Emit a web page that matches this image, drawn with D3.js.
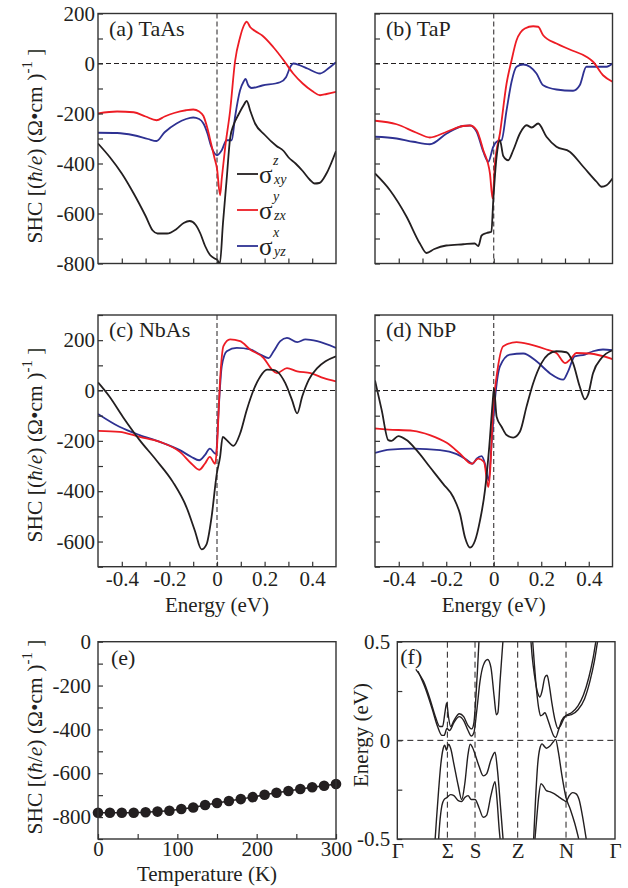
<!DOCTYPE html>
<head>
<meta charset="utf-8">
<script src="https://d3js.org/d3.v7.min.js"></script>
<style>
body { margin: 0; background: #fff; }
svg text { font-family: "Liberation Serif", "Times New Roman", serif; fill: #231f20; }
</style>
</head>
<body>
<svg id="fig" width="628" height="888"></svg>
<script>

// ---- data ----
// SHC vs energy (eV), [E, SHC]
var taas_xy = [[-0.5,-320],[-0.45,-375],[-0.4,-440],[-0.35,-520],[-0.3,-610],[-0.27,-668],[-0.25,-680],[-0.21,-680],[-0.17,-662],[-0.14,-638],[-0.115,-630],[-0.09,-645],[-0.07,-680],[-0.05,-730],[-0.03,-765],[-0.01,-780],[0.0,-785],[0.012,-800],[0.025,-640],[0.04,-470],[0.055,-300],[0.07,-245],[0.09,-205],[0.11,-170],[0.125,-150],[0.14,-190],[0.16,-240],[0.2,-285],[0.25,-330],[0.28,-350],[0.3,-375],[0.33,-400],[0.36,-430],[0.39,-465],[0.41,-480],[0.43,-478],[0.46,-440],[0.5,-350]];
var taas_zx = [[-0.5,-200],[-0.42,-192],[-0.35,-195],[-0.3,-212],[-0.254,-227],[-0.22,-212],[-0.18,-198],[-0.13,-187],[-0.1,-184],[-0.075,-192],[-0.057,-210],[-0.04,-260],[-0.025,-320],[-0.01,-380],[0.0,-420],[0.013,-527],[0.02,-460],[0.035,-330],[0.055,-190],[0.076,10],[0.097,105],[0.112,150],[0.125,167],[0.14,145],[0.16,130],[0.19,112],[0.237,65],[0.28,13],[0.32,-40],[0.36,-80],[0.4,-110],[0.433,-127],[0.46,-122],[0.5,-113]];
var taas_yz = [[-0.5,-277],[-0.42,-278],[-0.35,-287],[-0.29,-302],[-0.254,-310],[-0.22,-275],[-0.17,-240],[-0.13,-222],[-0.1,-216],[-0.075,-222],[-0.057,-240],[-0.04,-280],[-0.025,-330],[-0.01,-360],[0.0,-367],[0.02,-347],[0.04,-307],[0.062,-307],[0.076,-213],[0.097,-107],[0.112,-72],[0.12,-62],[0.13,-85],[0.145,-98],[0.19,-88],[0.265,-75],[0.29,-55],[0.31,-10],[0.32,0],[0.35,-8],[0.38,-20],[0.433,-40],[0.47,-18],[0.5,5]];

var tap_xy = [[-0.5,-440],[-0.437,-507],[-0.367,-613],[-0.311,-720],[-0.283,-758],[-0.25,-742],[-0.2,-728],[-0.128,-723],[-0.08,-720],[-0.065,-730],[-0.051,-688],[-0.03,-678],[-0.01,-673],[-0.002,-547],[0.012,-373],[0.026,-307],[0.04,-370],[0.061,-387],[0.082,-347],[0.11,-280],[0.138,-247],[0.16,-256],[0.187,-240],[0.222,-293],[0.264,-333],[0.32,-353],[0.377,-413],[0.433,-473],[0.454,-493],[0.475,-487],[0.5,-460]];
var tap_zx = [[-0.5,-229],[-0.409,-243],[-0.325,-277],[-0.269,-296],[-0.198,-273],[-0.13,-250],[-0.1,-248],[-0.072,-267],[-0.044,-347],[-0.016,-440],[-0.005,-540],[0.005,-400],[0.026,-280],[0.054,-80],[0.075,13],[0.096,93],[0.131,140],[0.166,149],[0.187,147],[0.208,113],[0.264,80],[0.32,56],[0.39,27],[0.418,7],[0.46,-47],[0.5,-73]];
var tap_yz = [[-0.5,-293],[-0.409,-300],[-0.339,-313],[-0.269,-323],[-0.198,-280],[-0.13,-250],[-0.1,-248],[-0.072,-273],[-0.044,-353],[-0.023,-393],[-0.002,-333],[0.012,-313],[0.033,-307],[0.054,-187],[0.075,-73],[0.096,-13],[0.124,-4],[0.152,-13],[0.18,-40],[0.208,-87],[0.264,-104],[0.334,-109],[0.362,-87],[0.39,-13],[0.433,-13],[0.475,-13],[0.5,0]];

var nbas_xy = [[-0.5,32],[-0.452,-24],[-0.396,-104],[-0.325,-197],[-0.255,-277],[-0.185,-364],[-0.128,-464],[-0.093,-557],[-0.065,-631],[-0.044,-611],[-0.023,-504],[-0.001,-331],[0.013,-264],[0.024,-184],[0.041,-197],[0.069,-220],[0.097,-171],[0.125,-77],[0.154,3],[0.182,56],[0.21,83],[0.235,82],[0.252,76],[0.287,29],[0.315,-37],[0.337,-91],[0.358,-24],[0.386,43],[0.421,89],[0.456,116],[0.5,136]];
var nbas_zx = [[-0.5,-160],[-0.41,-164],[-0.325,-184],[-0.24,-204],[-0.156,-244],[-0.107,-291],[-0.075,-315],[-0.051,-291],[-0.03,-264],[-0.008,-291],[-0.001,-237],[0.013,43],[0.027,176],[0.055,203],[0.097,196],[0.139,163],[0.196,129],[0.231,83],[0.252,69],[0.294,89],[0.337,76],[0.393,69],[0.449,49],[0.5,36]];
var nbas_yz = [[-0.5,-93],[-0.41,-144],[-0.325,-177],[-0.24,-204],[-0.156,-237],[-0.107,-264],[-0.075,-277],[-0.051,-257],[-0.03,-231],[-0.004,-253],[0.006,-91],[0.02,96],[0.041,156],[0.083,169],[0.139,163],[0.182,143],[0.217,129],[0.238,156],[0.266,196],[0.294,209],[0.337,192],[0.372,203],[0.421,196],[0.5,169]];

var nbp_xy = [[-0.5,40],[-0.472,-77],[-0.444,-197],[-0.43,-200],[-0.402,-181],[-0.367,-197],[-0.325,-237],[-0.269,-304],[-0.213,-371],[-0.17,-424],[-0.142,-491],[-0.121,-584],[-0.1,-624],[-0.079,-597],[-0.058,-517],[-0.037,-397],[-0.019,-224],[-0.005,-51],[0.001,9],[0.012,-104],[0.033,-144],[0.054,-177],[0.082,-187],[0.11,-164],[0.138,-64],[0.166,29],[0.201,109],[0.229,143],[0.264,156],[0.306,152],[0.334,109],[0.362,16],[0.384,-35],[0.397,-17],[0.418,69],[0.454,129],[0.5,160]];
var nbp_zx = [[-0.5,-151],[-0.444,-155],[-0.339,-160],[-0.269,-177],[-0.198,-208],[-0.142,-251],[-0.093,-291],[-0.065,-271],[-0.041,-284],[-0.023,-384],[-0.016,-331],[-0.002,-64],[0.012,56],[0.04,176],[0.096,192],[0.152,183],[0.222,163],[0.264,149],[0.3,109],[0.327,129],[0.348,149],[0.404,147],[0.5,125]];
var nbp_yz = [[-0.5,-248],[-0.437,-235],[-0.339,-231],[-0.226,-237],[-0.156,-253],[-0.114,-275],[-0.089,-291],[-0.072,-271],[-0.051,-261],[-0.037,-291],[-0.022,-357],[-0.009,-211],[0.005,-37],[0.026,96],[0.068,143],[0.124,147],[0.18,116],[0.236,69],[0.292,43],[0.313,76],[0.341,136],[0.384,143],[0.418,156],[0.46,163],[0.5,160]];

// SHC of TaAs vs temperature
var temps = [0,15,30,45,60,75,90,105,120,135,150,165,180,195,210,225,240,255,270,285,300];
var shcT = [-780,-780,-780,-780,-778,-775,-771,-763,-756,-745,-736,-727,-718,-709,-698,-689,-681,-672,-664,-657,-649];

// bands along the k path, [path fraction, E (eV)]
var kPoints = [0, 0.23, 0.357, 0.553, 0.775, 1];
var kLabels = ["Γ", "Σ", "S", "Z", "N", "Γ"];
var bandC1 = [[0.095,0.35],[0.13,0.26],[0.16,0.16],[0.185,0.07],[0.205,0.025],[0.215,0.025],[0.228,0.06],[0.24,0.05],[0.26,0.09],[0.285,0.12],[0.305,0.1],[0.325,0.05],[0.34,0.022],[0.352,0.04],[0.365,0.15],[0.38,0.3],[0.395,0.38],[0.415,0.41],[0.43,0.37],[0.445,0.22],[0.455,0.13],[0.462,0.14],[0.472,0.3],[0.485,0.5],[0.49,0.58]];
var bandC2 = [[0.085,0.36],[0.12,0.3],[0.15,0.21],[0.175,0.12],[0.195,0.07],[0.208,0.07],[0.22,0.15],[0.227,0.19],[0.235,0.12],[0.245,0.07],[0.26,0.1],[0.285,0.135],[0.305,0.12],[0.325,0.075],[0.342,0.058],[0.352,0.09],[0.36,0.2],[0.368,0.35],[0.375,0.5],[0.378,0.56]];
var bandV1 = [[0.172,-0.53],[0.18,-0.4],[0.19,-0.25],[0.2,-0.12],[0.21,-0.045],[0.218,-0.025],[0.226,-0.05],[0.235,-0.02],[0.245,-0.04],[0.26,-0.12],[0.28,-0.23],[0.296,-0.3],[0.31,-0.22],[0.325,-0.07],[0.335,-0.02],[0.345,-0.035],[0.357,-0.07],[0.375,-0.13],[0.395,-0.18],[0.41,-0.17],[0.43,-0.1],[0.449,-0.06],[0.46,-0.15],[0.475,-0.35],[0.488,-0.53]];
var bandV2 = [[0.188,-0.53],[0.195,-0.42],[0.205,-0.33],[0.215,-0.3],[0.228,-0.29],[0.245,-0.275],[0.26,-0.28],[0.28,-0.305],[0.296,-0.31],[0.31,-0.29],[0.325,-0.28],[0.34,-0.3],[0.357,-0.3],[0.375,-0.34],[0.395,-0.39],[0.41,-0.38],[0.43,-0.28],[0.449,-0.21],[0.458,-0.3],[0.468,-0.45],[0.475,-0.53]];
var bandC3 = [[0.62,0.53],[0.63,0.38],[0.64,0.25],[0.65,0.16],[0.658,0.125],[0.668,0.13],[0.678,0.14],[0.69,0.11],[0.705,0.06],[0.72,0.02],[0.728,0.015],[0.74,0.05],[0.755,0.1],[0.775,0.125],[0.8,0.13],[0.83,0.155],[0.86,0.21],[0.885,0.3],[0.905,0.4],[0.92,0.5],[0.925,0.53]];
var bandC4 = [[0.612,0.53],[0.62,0.42],[0.63,0.33],[0.645,0.24],[0.655,0.22],[0.665,0.25],[0.678,0.32],[0.688,0.33],[0.698,0.28],[0.71,0.19],[0.725,0.1],[0.738,0.06],[0.75,0.075],[0.765,0.11],[0.775,0.125],[0.8,0.14],[0.83,0.175],[0.855,0.23],[0.88,0.32],[0.9,0.42],[0.912,0.5],[0.917,0.53]];
var bandV3 = [[0.625,-0.53],[0.635,-0.3],[0.645,-0.12],[0.655,-0.04],[0.665,-0.018],[0.675,-0.03],[0.685,-0.04],[0.7,-0.03],[0.715,-0.01],[0.727,0.005],[0.74,-0.06],[0.755,-0.17],[0.775,-0.29],[0.795,-0.35],[0.815,-0.42],[0.84,-0.53]];
var bandV4 = [[0.63,-0.53],[0.64,-0.4],[0.65,-0.28],[0.66,-0.22],[0.67,-0.23],[0.685,-0.255],[0.7,-0.26],[0.72,-0.27],[0.74,-0.285],[0.76,-0.3],[0.775,-0.31],[0.79,-0.28],[0.805,-0.265],[0.82,-0.27],[0.835,-0.3],[0.85,-0.38],[0.865,-0.48],[0.872,-0.53]];

var legendSup = ["z", "y", "x"];
var legendSub = ["xy", "zx", "yz"];
var energyTicks = [-0.4,-0.3,-0.2,-0.1,0,0.1,0.2,0.3,0.4];
var energyLabels = [-0.4,-0.2,0,0.2,0.4];

// ---- drawing ----
var svg = d3.select("#fig");
var ink = "#231f20", red = "#ed1c24", blue = "#2e3192";
var colors = [ink, red, blue];

function frame(g, x0, x1, y0, y1) {
  g.append("rect").attr("x", x0).attr("y", y0).attr("width", x1 - x0).attr("height", y1 - y0)
    .attr("fill", "none").attr("stroke", "#333").attr("stroke-width", 1.4);
}

function styleAxis(a) {
  a.select(".domain").remove();
  a.selectAll("line").attr("stroke", "#333").attr("stroke-width", 1.2);
  a.selectAll("text").attr("font-size", 21).attr("fill", ink)
    .attr("font-family", "'Liberation Serif', serif");
}

var clipId = 0;
function clip(x0, x1, y0, y1) {
  var id = "c" + (clipId++);
  svg.append("clipPath").attr("id", id).append("rect")
    .attr("x", x0).attr("y", y0).attr("width", x1 - x0).attr("height", y1 - y0);
  return "url(#" + id + ")";
}

function yTitle(cx, cy) {
  var t = svg.append("text").attr("transform", "translate(" + cx + "," + cy + ") rotate(-90)")
    .attr("text-anchor", "middle").attr("font-size", 21.5);
  t.append("tspan").text("SHC [(");
  t.append("tspan").attr("font-style", "italic").text("ħ");
  t.append("tspan").text("/");
  t.append("tspan").attr("font-style", "italic").text("e");
  t.append("tspan").text(") (Ω•cm )");
  t.append("tspan").attr("font-size", 15).attr("dy", -10).text("-1");
  t.append("tspan").attr("dy", 10).text(" ]");
}

function shcPanel(p) {
  var x = d3.scaleLinear().domain([-0.5, 0.5]).range([p.x0, p.x1]);
  var y = d3.scaleLinear().domain(p.yDomain).range([p.y1, p.y0]);
  var g = svg.append("g");

  var cp = clip(p.x0, p.x1, p.y0, p.y1);
  var line = d3.line().x(function(d) { return x(d[0]); }).y(function(d) { return y(d[1]); })
    .curve(d3.curveMonotoneX);

  // zero lines
  g.append("line").attr("x1", p.x0).attr("x2", p.x1).attr("y1", y(0)).attr("y2", y(0))
    .attr("stroke", ink).attr("stroke-width", 1).attr("stroke-dasharray", "5,3");
  g.append("line").attr("x1", x(0)).attr("x2", x(0)).attr("y1", p.y0).attr("y2", p.y1)
    .attr("stroke", ink).attr("stroke-width", 1).attr("stroke-dasharray", "5,3");

  // curves, black drawn on top last
  [2, 1, 0].forEach(function(i) {
    g.append("path").datum(p.series[i]).attr("d", line).attr("clip-path", cp)
      .attr("fill", "none").attr("stroke", colors[i]).attr("stroke-width", 1.8)
      .attr("stroke-linejoin", "round");
  });

  var yt = d3.range(p.yDomain[0], p.yDomain[1] + 1, 100);
  var ay = g.append("g").attr("transform", "translate(" + p.x0 + ",0)")
    .call(d3.axisLeft(y).tickValues(yt).tickSizeInner(-5).tickSizeOuter(0).tickPadding(3)
      .tickFormat(function(d) { return p.yLabels && d % 200 === 0 ? String(d) : ""; }));
  styleAxis(ay);

  var ax = g.append("g").attr("transform", "translate(0," + p.y1 + ")")
    .call(d3.axisBottom(x).tickValues(energyTicks).tickSizeInner(-5).tickSizeOuter(0).tickPadding(4)
      .tickFormat(function(d) { return p.xLabels && energyLabels.indexOf(d) >= 0 ? String(d) : ""; }));
  styleAxis(ax);

  frame(g, p.x0, p.x1, p.y0, p.y1);

  g.append("text").attr("x", p.x0 + 11).attr("y", p.y0 + 22).attr("font-size", 22).text(p.label);

  if (p.xLabels) {
    g.append("text").attr("x", (p.x0 + p.x1) / 2).attr("y", p.y1 + 45).attr("text-anchor", "middle")
      .attr("font-size", 21).text("Energy (eV)");
  }

  if (p.legend) {
    var ly = [174, 210, 246];
    ly.forEach(function(yy, i) {
      g.append("line").attr("x1", 237).attr("x2", 258).attr("y1", yy).attr("y2", yy)
        .attr("stroke", colors[i]).attr("stroke-width", 1.8);
      g.append("text").attr("x", 259).attr("y", yy + 9).attr("font-size", 25).text("σ");
      g.append("text").attr("x", 273).attr("y", yy - 9).attr("font-size", 14)
        .attr("font-style", "italic").text(legendSup[i]);
      g.append("text").attr("x", 274).attr("y", yy + 10).attr("font-size", 14)
        .attr("font-style", "italic").text(legendSub[i]);
    });
  }
}

shcPanel({x0: 98, x1: 336, y0: 13.5, y1: 263.5, yDomain: [-800, 200], series: [taas_xy, taas_zx, taas_yz],
  label: "(a) TaAs", yLabels: true, xLabels: false, legend: true});
shcPanel({x0: 375, x1: 612.5, y0: 13.5, y1: 263.5, yDomain: [-800, 200], series: [tap_xy, tap_zx, tap_yz],
  label: "(b) TaP", yLabels: false, xLabels: false});
shcPanel({x0: 98, x1: 336, y0: 315, y1: 566.7, yDomain: [-700, 300], series: [nbas_xy, nbas_zx, nbas_yz],
  label: "(c) NbAs", yLabels: true, xLabels: true});
shcPanel({x0: 375, x1: 612.5, y0: 315, y1: 566.7, yDomain: [-700, 300], series: [nbp_xy, nbp_zx, nbp_yz],
  label: "(d) NbP", yLabels: false, xLabels: true});

yTitle(42, 146);
yTitle(42, 445);
yTitle(42, 737);

// (e) temperature dependence
(function() {
  var x0 = 98, x1 = 336, y0 = 641.7, y1 = 839;
  var x = d3.scaleLinear().domain([0, 300]).range([x0, x1]);
  var y = d3.scaleLinear().domain([-900, 0]).range([y1, y0]);
  var g = svg.append("g");
  var pts = temps.map(function(t, i) { return [t, shcT[i]]; });
  g.append("path").datum(pts)
    .attr("d", d3.line().x(function(d) { return x(d[0]); }).y(function(d) { return y(d[1]); }))
    .attr("fill", "none").attr("stroke", ink).attr("stroke-width", 1.5);
  g.selectAll("circle").data(pts).enter().append("circle")
    .attr("cx", function(d) { return x(d[0]); }).attr("cy", function(d) { return y(d[1]); })
    .attr("r", 5.3).attr("fill", ink);

  var ay = g.append("g").attr("transform", "translate(" + x0 + ",0)")
    .call(d3.axisLeft(y).tickValues(d3.range(-900, 1, 100)).tickSizeInner(-5).tickSizeOuter(0).tickPadding(7)
      .tickFormat(function(d) { return d % 200 === 0 ? String(d) : ""; }));
  styleAxis(ay);
  var ax = g.append("g").attr("transform", "translate(0," + y1 + ")")
    .call(d3.axisBottom(x).tickValues(d3.range(0, 301, 50)).tickSizeInner(-5).tickSizeOuter(0).tickPadding(2)
      .tickFormat(function(d) { return d % 100 === 0 ? String(d) : ""; }));
  styleAxis(ax);
  frame(g, x0, x1, y0, y1);
  g.append("text").attr("x", x0 + 13).attr("y", y0 + 23).attr("font-size", 22).text("(e)");
  g.append("text").attr("x", (x0 + x1) / 2 - 10).attr("y", 881).attr("text-anchor", "middle")
    .attr("font-size", 21).text("Temperature (K)");
})();

// (f) band structure
(function() {
  var x0 = 397.3, x1 = 615, y0 = 641.7, y1 = 839;
  var x = d3.scaleLinear().domain([0, 1]).range([x0, x1]);
  var y = d3.scaleLinear().domain([-0.5, 0.5]).range([y1, y0]);
  var g = svg.append("g");
  var cp = clip(x0, x1, y0, y1);

  kPoints.slice(1, -1).forEach(function(k) {
    g.append("line").attr("x1", x(k)).attr("x2", x(k)).attr("y1", y0).attr("y2", y1)
      .attr("stroke", ink).attr("stroke-width", 1).attr("stroke-dasharray", "6,4");
  });
  g.append("line").attr("x1", x0).attr("x2", x1).attr("y1", y(0)).attr("y2", y(0))
    .attr("stroke", ink).attr("stroke-width", 1).attr("stroke-dasharray", "6,4");

  var line = d3.line().x(function(d) { return x(d[0]); }).y(function(d) { return y(d[1]); })
    .curve(d3.curveMonotoneX);
  [bandC1, bandC2, bandV1, bandV2, bandC3, bandC4, bandV3, bandV4].forEach(function(b) {
    g.append("path").datum(b).attr("d", line).attr("clip-path", cp)
      .attr("fill", "none").attr("stroke", ink).attr("stroke-width", 1.4);
  });

  var ay = g.append("g").attr("transform", "translate(" + x0 + ",0)")
    .call(d3.axisLeft(y).tickValues([-0.5, -0.25, 0, 0.25, 0.5]).tickSizeInner(-5).tickSizeOuter(0).tickPadding(7)
      .tickFormat(function(d) { return Math.abs(d) === 0.25 ? "" : String(d); }));
  styleAxis(ay);
  var ax = g.append("g").attr("transform", "translate(0," + y1 + ")")
    .call(d3.axisBottom(x).tickValues(kPoints).tickSize(0).tickPadding(4)
      .tickFormat(function(d, i) { return kLabels[i]; }));
  styleAxis(ax);
  frame(g, x0, x1, y0, y1);
  g.append("text").attr("x", x0 + 3).attr("y", y0 + 22).attr("font-size", 22).text("(f)");
  g.append("text").attr("transform", "translate(368," + 735 + ") rotate(-90)").attr("text-anchor", "middle")
    .attr("font-size", 21).text("Energy (eV)");
})();

</script>
</body>
